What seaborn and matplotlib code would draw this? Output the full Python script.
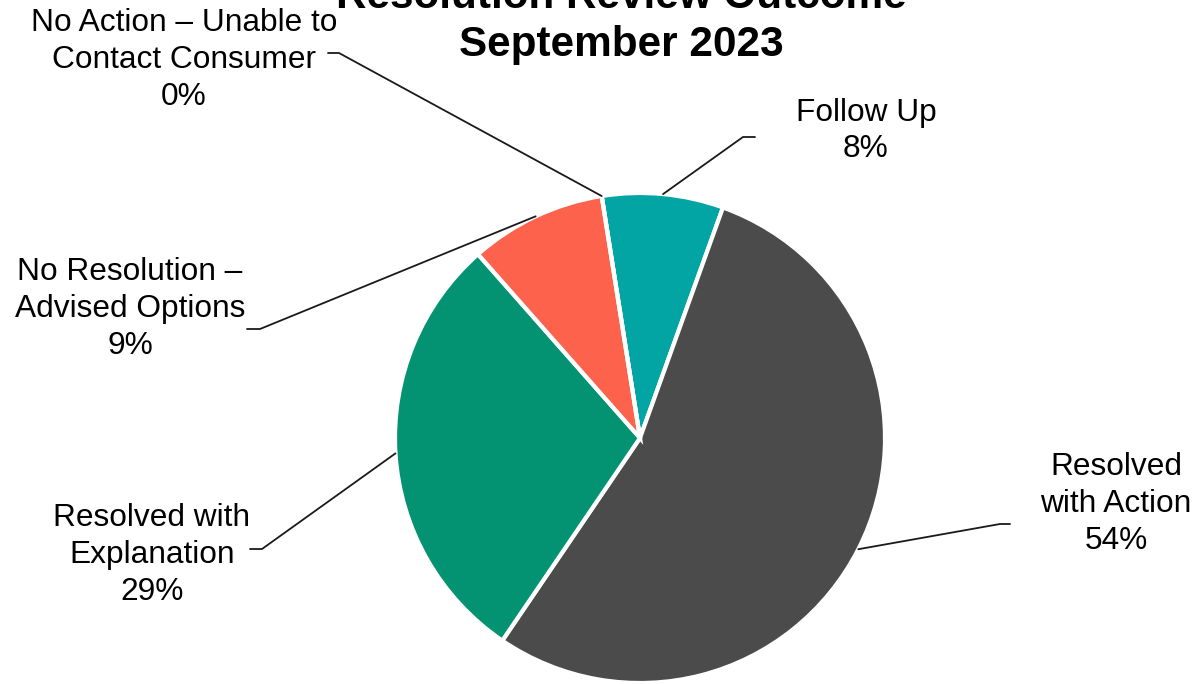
import numpy as np
import matplotlib
matplotlib.use("Agg")
import matplotlib.pyplot as plt
import seaborn as sns

# ---- data ----
categories = ["Follow Up", "Resolved with Action", "Resolved with Explanation",
              "No Resolution – Advised Options", "No Action – Unable to Contact Consumer"]
label_texts = ["Follow Up\n8%", "Resolved\nwith Action\n54%", "Resolved with\nExplanation\n29%",
               "No Resolution –\nAdvised Options\n9%", "No Action – Unable to\nContact Consumer\n0%"]
values = [8, 54, 29, 9, 0]
colors_hex = ["#03A4A4", "#4B4B4B", "#039372", "#FD624C", "#7F7F7F"]
title_text = "Resolution Review Outcome\nSeptember 2023"

sns.set_theme(style="white")
plt.rcParams["font.family"] = ["Liberation Sans", "DejaVu Sans"]
palette = sns.color_palette(colors_hex)

W, H = 1195, 684
fig = plt.figure(figsize=(W / 100, H / 100), dpi=100)
ax = fig.add_axes([0, 0, 1, 1])

def Y(y):
    return H - y

cx, cy, R = 640, Y(438), 245
start = 99
wedges, _ = ax.pie(values, colors=palette, startangle=start, counterclock=False,
                   center=(cx, cy), radius=R,
                   wedgeprops=dict(edgecolor="white", linewidth=3.0))
ax.set_xlim(0, W)
ax.set_ylim(0, H)
ax.set_aspect("equal")
ax.axis("off")

# label layout: text centre, tick end (outer), tick start (elbow)
layout = [
    dict(text=(866, 131), tick=((755, 137), (743, 137))),
    dict(text=(1116, 504), tick=((1010, 524), (1000, 524))),
    dict(text=(152, 555), tick=((250, 549), (262, 549))),
    dict(text=(130, 309), tick=((247, 329), (260, 329))),
    dict(text=(184, 60), tick=((328, 53), (339, 53))),
]

for w, lab, lay in zip(wedges, label_texts, layout):
    mid = np.deg2rad((w.theta1 + w.theta2) / 2)
    ax_pt = (cx + R * np.cos(mid), cy + R * np.sin(mid))
    (x0, y0), (x1, y1) = lay["tick"]
    ax.plot([x0, x1, ax_pt[0]], [Y(y0), Y(y1), ax_pt[1]], color="#1a1a1a", lw=1.3,
            solid_joinstyle="miter", zorder=3)
    tx, ty = lay["text"]
    ax.text(tx, Y(ty), lab, ha="center", va="center", fontsize=22.8,
            linespacing=1.3, color="black")

ax.text(621, Y(21), title_text, ha="center", va="center", fontsize=30.4,
        fontweight="bold", linespacing=1.28, color="black")

fig.savefig("out.png", dpi=100)
